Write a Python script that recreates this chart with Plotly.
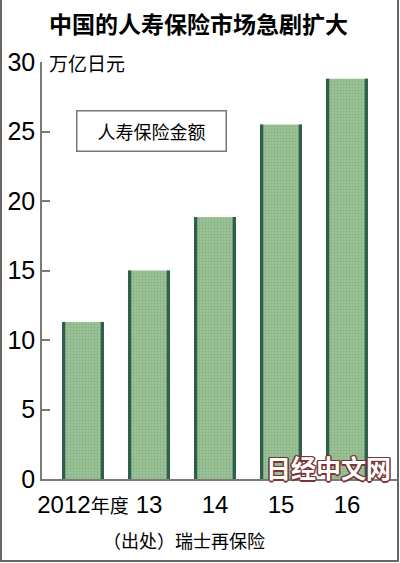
import plotly.graph_objects as go

years = ["2012年度", "13", "14", "15", "16"]
values = [11.3, 15.0, 18.85, 25.5, 28.8]
y_ticks = [0, 5, 10, 15, 20, 25, 30]

title_text = "中国的人寿保险市场急剧扩大"
unit_text = "万亿日元"
series_name = "人寿保险金额"
source_text = "（出处）瑞士再保险"
watermark_text = "日经中文网"

W, H = 400, 563
L, R, T, B = 42, 3, 62, 84
pw, ph = W - L - R, H - T - B

def px(x):
    return (x - L) / pw

def py(y):
    return (H - B - y) / ph

idx = list(range(len(years)))
bar_w = 0.636
edge_w = 0.05

NUM = "Liberation Sans, Arial, Noto Sans CJK SC, sans-serif"
CJK = "Noto Sans CJK SC, sans-serif"

def tick_label(s):
    # CJK part drawn slightly smaller so the label keeps its compact width
    digits = "".join(ch for ch in s if ch.isdigit())
    rest = s[len(digits):]
    if rest:
        return digits + "<span style='font-size:19px'>" + rest + "</span>"
    return s

fig = go.Figure()
fig.add_trace(go.Bar(
    x=idx, y=values, width=bar_w,
    marker=dict(color="#8fb78b", line=dict(width=0),
                pattern=dict(shape=".", size=3, solidity=0.35,
                             fgcolor="#6f9c74", bgcolor="#9cc397")),
    hoverinfo="skip", showlegend=False,
))
for off in (-bar_w / 2, bar_w / 2 - edge_w):
    fig.add_trace(go.Bar(
        x=idx, y=values, width=edge_w, offset=off,
        marker=dict(color="#2f5f4a", line=dict(width=0)),
        hoverinfo="skip", showlegend=False,
    ))

fig.update_layout(
    width=W, height=H,
    margin=dict(l=L, r=R, t=T, b=B, autoexpand=False),
    paper_bgcolor="white", plot_bgcolor="white",
    barmode="overlay",
    font=dict(family=NUM, color="black"),
    xaxis=dict(
        range=[-0.621, 4.758], tickvals=idx,
        ticktext=[tick_label(s) for s in years],
        showgrid=False, zeroline=False, showline=True,
        linecolor="#7a7a7a", linewidth=1.5, ticks="",
        tickangle=0, automargin=False, ticklabelstandoff=3,
        tickfont=dict(family=NUM, size=24, color="black"),
        fixedrange=True,
    ),
    yaxis=dict(
        range=[0, 30], tickvals=y_ticks,
        showgrid=False, zeroline=False, showline=True,
        linecolor="#7a7a7a", linewidth=1.5, automargin=False,
        ticks="inside", ticklen=8, tickcolor="#7a7a7a", tickwidth=1.5,
        tickfont=dict(family=NUM, size=25, color="black"),
        fixedrange=True,
    ),
    annotations=[
        dict(text="<b>" + title_text + "</b>", xref="paper", yref="paper",
             x=px(198), y=py(23), xanchor="center", yanchor="middle",
             showarrow=False, font=dict(family=CJK, size=23, color="black")),
        dict(text=unit_text, xref="paper", yref="paper",
             x=px(47), y=py(63), xanchor="left", yanchor="middle",
             showarrow=False, font=dict(family=CJK, size=19, color="black")),
        dict(text=series_name, xref="paper", yref="paper",
             x=px(151), y=py(130.5), xanchor="center", yanchor="middle",
             width=146, height=37, borderpad=1, bordercolor="#777777",
             borderwidth=1.5, bgcolor="white",
             showarrow=False, font=dict(family=CJK, size=18, color="black")),
        dict(text=source_text, xref="paper", yref="paper",
             x=px(184), y=py(540), xanchor="center", yanchor="middle",
             showarrow=False, font=dict(family=CJK, size=18, color="black")),
        dict(text="<b>" + watermark_text + "</b>", xref="paper", yref="paper",
             x=px(328), y=py(467), xanchor="center", yanchor="middle",
             showarrow=False,
             font=dict(family=CJK, size=25, color="white",
                       shadow="1px 1px 0 #7a3535, -1px -1px 0 #7a3535, 1px -1px 0 #7a3535, -1px 1px 0 #7a3535, 1.5px 0 0 #7a3535, -1.5px 0 0 #7a3535, 0 1.5px 0 #7a3535, 0 -1.5px 0 #7a3535")),
    ],
    shapes=[
        dict(type="path", xref="paper", yref="paper",
             path=f"M {px(1)} {py(0)} L {px(1)} {py(561)} L {px(398)} {py(561)} L {px(398)} {py(0)}",
             line=dict(color="#666666", width=2)),
    ],
)

fig.write_html("out.html", config={"displayModeBar": False},
               post_script="document.body.style.margin='0';document.body.style.overflow='hidden';")
